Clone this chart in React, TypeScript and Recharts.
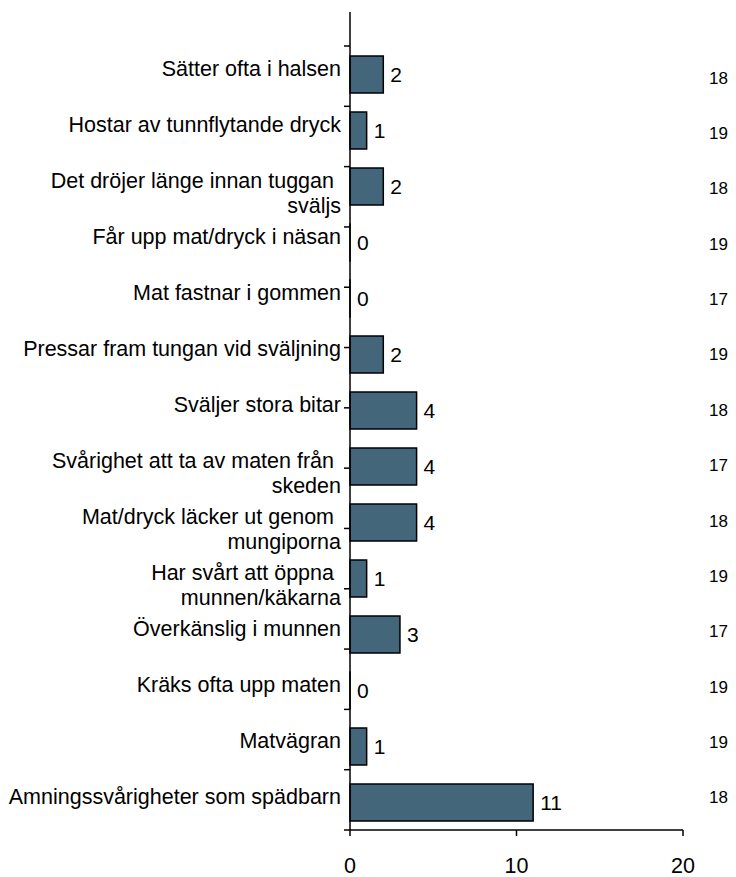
import React from 'react';
import { BarChart, Bar, XAxis, YAxis, LabelList } from 'recharts';

const categories = [
  'Sätter ofta i halsen',
  'Hostar av tunnflytande dryck',
  'Det dröjer länge innan tuggan\nsväljs',
  'Får upp mat/dryck i näsan',
  'Mat fastnar i gommen',
  'Pressar fram tungan vid sväljning',
  'Sväljer stora bitar',
  'Svårighet att ta av maten från\nskeden',
  'Mat/dryck läcker ut genom\nmungiporna',
  'Har svårt att öppna\nmunnen/käkarna',
  'Överkänslig i munnen',
  'Kräks ofta upp maten',
  'Matvägran',
  'Amningssvårigheter som spädbarn',
];

const values = [2, 1, 2, 0, 0, 2, 4, 4, 4, 1, 3, 0, 1, 11];

// number of answers per row (shown at the right)
const answered = [18, 19, 18, 19, 17, 19, 18, 17, 18, 19, 17, 19, 19, 18];

const xTicks = [0, 10, 20];

const data = categories.map((name, i) => ({ name, value: values[i] }));
const boundaries = [...categories.map((_, i) => i), categories.length];

const FONT = '"Liberation Sans", Arial, Helvetica, sans-serif';
const BAR_COLOR = '#43667a';

// category label, right aligned, possibly on two lines
const CategoryTick = (props: any) => {
  const { x, y, payload } = props;
  const lines = String(payload.value).split('\n');
  return (
    <text x={x} y={y} textAnchor="end" fontFamily={FONT} fontSize={21.5} fill="#000">
      {lines.map((line, i) => (
        <tspan key={i} x={lines.length > 1 && i === 0 ? x - 7 : x} y={y + 1.5 + i * 25}>
          {line}
        </tspan>
      ))}
    </text>
  );
};

// value label, also for the zero rows
const ValueLabel = (props: any) => {
  const { x, y, width, height, value } = props;
  return (
    <text
      x={x + width + 7}
      y={y + height / 2}
      dy="0.355em"
      textAnchor="start"
      fontFamily={FONT}
      fontSize={21}
      fill="#000"
    >
      {value}
    </text>
  );
};

export default function App() {
  return (
    <div style={{ fontFamily: FONT }}>
      <BarChart
        width={720}
        height={869}
        data={data}
        layout="vertical"
        margin={{ top: 4, right: 0, left: 0, bottom: 0 }}
      >
        {/* boundary tick marks + vertical axis line */}
        <YAxis
          yAxisId="a-bounds"
          type="number"
          orientation="left"
          width={1}
          domain={[0, categories.length]}
          allowDataOverflow
          ticks={boundaries}
          tickFormatter={() => ''}
          tickSize={6}
          padding={{ top: 34, bottom: 0 }}
          axisLine={{ stroke: '#000', strokeWidth: 1.5 }}
          tickLine={{ stroke: '#000', strokeWidth: 1.5 }}
        />
        <YAxis
          yAxisId="cat"
          type="category"
          dataKey="name"
          orientation="left"
          width={341}
          interval={0}
          padding={{ top: 34, bottom: 0 }}
          axisLine={false}
          tickLine={false}
          tickSize={0}
          tickMargin={8}
          tick={<CategoryTick />}
        />
        <YAxis
          yAxisId="n"
          type="category"
          dataKey="name"
          orientation="right"
          width={45}
          interval={0}
          padding={{ top: 38, bottom: 5 }}
          axisLine={false}
          tickLine={false}
          tickSize={0}
          tickMargin={26}
          tickFormatter={(_v: any, i: number) => String(answered[i])}
          tick={{ fontSize: 17, fill: '#000', fontFamily: FONT }}
        />
        <XAxis
          type="number"
          domain={[0, 20]}
          ticks={xTicks}
          height={47}
          tickSize={6}
          tickMargin={22}
          axisLine={{ stroke: '#000', strokeWidth: 1.5 }}
          tickLine={{ stroke: '#000', strokeWidth: 1.5 }}
          tick={{ fontSize: 21.5, fill: '#000', fontFamily: FONT }}
        />
        <Bar
          yAxisId="cat"
          dataKey="value"
          fill={BAR_COLOR}
          stroke="#000"
          strokeWidth={1.5}
          barSize={37}
          minPointSize={0.01}
          isAnimationActive={false}
        >
          <LabelList dataKey="value" content={<ValueLabel />} />
        </Bar>
      </BarChart>
    </div>
  );
}
